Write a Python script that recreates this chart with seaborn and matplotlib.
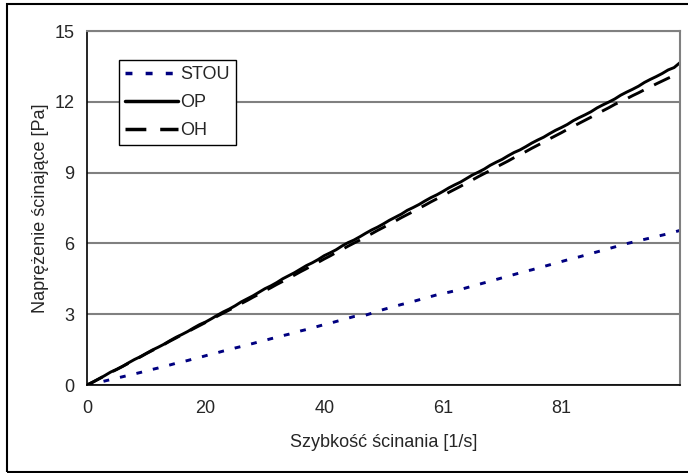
import matplotlib
matplotlib.use("Agg")
import matplotlib.pyplot as plt
import seaborn as sns
import pandas as pd
from matplotlib.patches import Rectangle
from matplotlib.lines import Line2D

# ---- data (category index 0..100) ----
stou = [0.00, 0.05, 0.11, 0.17, 0.23, 0.29, 0.35, 0.41, 0.47, 0.53,
        0.60, 0.66, 0.72, 0.79, 0.85, 0.92, 0.98, 1.04, 1.11, 1.17,
        1.24, 1.31, 1.37, 1.44, 1.50, 1.57, 1.63, 1.70, 1.76, 1.83,
        1.89, 1.96, 2.02, 2.09, 2.15, 2.22, 2.29, 2.35, 2.42, 2.49,
        2.56, 2.62, 2.69, 2.76, 2.83, 2.90, 2.93, 2.96, 3.04, 3.12,
        3.20, 3.27, 3.34, 3.41, 3.47, 3.54, 3.61, 3.68, 3.75, 3.82,
        3.88, 3.93, 3.99, 4.05, 4.12, 4.19, 4.26, 4.33, 4.40, 4.47,
        4.54, 4.61, 4.68, 4.75, 4.82, 4.88, 4.95, 5.02, 5.09, 5.16,
        5.23, 5.30, 5.37, 5.43, 5.50, 5.57, 5.64, 5.71, 5.78, 5.85,
        5.92, 5.99, 6.05, 6.11, 6.17, 6.23, 6.29, 6.35, 6.41, 6.48,
        6.55]
op = [0.00, 0.13, 0.26, 0.40, 0.55, 0.66, 0.79, 0.94, 1.08, 1.20,
      1.34, 1.48, 1.60, 1.73, 1.88, 2.02, 2.14, 2.27, 2.42, 2.56,
      2.67, 2.81, 2.96, 3.10, 3.22, 3.36, 3.52, 3.65, 3.78, 3.93,
      4.08, 4.20, 4.34, 4.50, 4.63, 4.76, 4.91, 5.06, 5.18, 5.32,
      5.48, 5.60, 5.73, 5.89, 6.03, 6.14, 6.28, 6.43, 6.57, 6.69,
      6.83, 6.98, 7.11, 7.24, 7.40, 7.52, 7.65, 7.80, 7.94, 8.06,
      8.20, 8.35, 8.48, 8.60, 8.75, 8.90, 9.02, 9.15, 9.31, 9.44,
      9.56, 9.71, 9.85, 9.96, 10.10, 10.25, 10.38, 10.50, 10.65, 10.79,
      10.91, 11.04, 11.20, 11.33, 11.45, 11.58, 11.74, 11.87, 11.99, 12.12,
      12.28, 12.41, 12.53, 12.66, 12.82, 12.95, 13.07, 13.20, 13.35, 13.45,
      13.66]
oh = [0.00, 0.12, 0.26, 0.39, 0.53, 0.66, 0.79, 0.92, 1.06, 1.19,
      1.33, 1.46, 1.59, 1.72, 1.86, 1.99, 2.13, 2.26, 2.39, 2.52,
      2.65, 2.78, 2.92, 3.05, 3.18, 3.31, 3.45, 3.58, 3.72, 3.85,
      3.99, 4.12, 4.26, 4.39, 4.53, 4.66, 4.80, 4.93, 5.07, 5.20,
      5.34, 5.47, 5.61, 5.74, 5.88, 6.01, 6.14, 6.28, 6.41, 6.55,
      6.68, 6.82, 6.95, 7.09, 7.22, 7.35, 7.49, 7.62, 7.76, 7.89,
      8.02, 8.16, 8.29, 8.42, 8.56, 8.69, 8.83, 8.96, 9.09, 9.23,
      9.36, 9.49, 9.63, 9.76, 9.89, 10.03, 10.16, 10.29, 10.43, 10.56,
      10.69, 10.83, 10.96, 11.09, 11.22, 11.35, 11.49, 11.62, 11.75, 11.89,
      12.01, 12.13, 12.26, 12.38, 12.51, 12.63, 12.76, 12.88, 13.00, 13.11,
      13.24]
series_names = ["STOU", "OP", "OH"]
x_tick_labels = ["0", "20", "40", "61", "81"]
x_tick_positions = [0, 20, 40, 60, 80]
y_ticks = [0, 3, 6, 9, 12, 15]

x_label = "Szybkość ścinania [1/s]"
y_label = "Naprężenie ścinające [Pa]"

idx = list(range(len(op)))
df = pd.DataFrame({"idx": idx * 3,
                   "val": stou + op + oh,
                   "series": ["STOU"] * len(stou) + ["OP"] * len(op) + ["OH"] * len(oh)})

sns.set_style("white")
plt.rcParams["font.family"] = ["Liberation Sans", "DejaVu Sans"]

fig = plt.figure(figsize=(6.88, 4.73), dpi=100)
ax = fig.add_axes([87 / 688, 88 / 473, 593 / 688, 354 / 473])

palette = {"STOU": "#000080", "OP": "#000000", "OH": "#000000"}
dashes = {"STOU": (2.0, 3.8), "OP": "", "OH": (6, 4)}
sns.lineplot(data=df, x="idx", y="val", hue="series", style="series",
             hue_order=series_names, style_order=series_names,
             palette=palette, dashes=dashes, linewidth=2.1, ax=ax, legend=False)

ax.set_xlim(0, 100)
ax.set_ylim(0, 15)
ax.set_xticks(x_tick_positions + [100])
ax.set_xticklabels(x_tick_labels + [""])
ax.set_yticks(y_ticks)
ax.set_yticklabels([str(v) for v in y_ticks])
ax.yaxis.grid(True, color="#808080", linewidth=1.5)
ax.set_axisbelow(True)

for s in ["top", "right"]:
    ax.spines[s].set_color("#808080")
    ax.spines[s].set_linewidth(1.5)
for s in ["left", "bottom"]:
    ax.spines[s].set_color("#000000")
    ax.spines[s].set_linewidth(1.2)

ax.tick_params(axis="both", which="major", direction="out", length=5, width=1,
               color="black", labelsize=13, pad=4)
ax.tick_params(axis="x", pad=6)
ax.set_xlabel(x_label, fontsize=13, labelpad=12)
ax.set_ylabel(y_label, fontsize=13, labelpad=4)

# legend
handles = [Line2D([], [], color=palette[n], linewidth=2.5,
                  linestyle=(0, dashes[n]) if dashes[n] else "-") for n in series_names]
leg = ax.legend(handles, series_names, loc="upper left",
                bbox_to_anchor=(0.054, 0.918), fontsize=13, frameon=True,
                fancybox=False, edgecolor="black", framealpha=1,
                handlelength=2.9, handletextpad=0.15, labelspacing=0.6,
                borderpad=0.35, borderaxespad=0)
leg.get_frame().set_linewidth(1)

# outer chart border
fig.patches.append(Rectangle((7 / 688, 1 / 473), 690 / 688, 468 / 473,
                             transform=fig.transFigure, fill=False,
                             edgecolor="black", linewidth=1.5))

fig.savefig("out.png", dpi=100)
